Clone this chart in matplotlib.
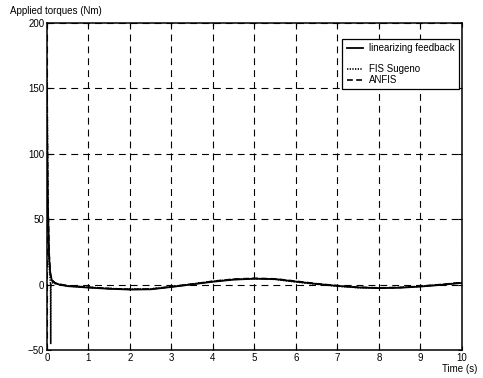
import numpy as np
import matplotlib.pyplot as plt
from matplotlib.lines import Line2D

# values
t_lin = [0, 0.02, 0.05, 0.08, 0.12, 0.2, 0.3, 0.5, 1, 1.5, 2, 2.5, 3, 3.5, 4, 4.5,
         5, 5.5, 6, 6.5, 7, 7.5, 8, 8.5, 9, 9.5, 10]
y_lin = [120, 60, 22, 8, 3, 1, 0, -1.2, -2.3, -3.2, -3.8, -3.6, -1.8, 0.2, 2.2, 3.8,
         4.5, 4.2, 2.3, 0.5, -1.0, -2.2, -2.7, -2.4, -1.5, -0.2, 1.3]

t_fis = [0, 0.02, 0.05, 0.08, 0.085, 0.09, 0.095, 0.12, 0.2, 0.3, 0.5, 1, 1.5, 2, 2.5,
         3, 3.5, 4, 4.5, 5, 5.5, 6, 6.5, 7, 7.5, 8, 8.5, 9, 9.5, 10]
y_fis = [165, 70, 15, 3, 1, -45, 0.5, 1.5, 0.8, 0.2, -1.0, -2.0, -3.0, -3.5, -3.3,
         -1.5, 0.5, 2.5, 4.0, 4.6, 4.0, 2.0, 0.3, -1.2, -2.3, -2.6, -2.2, -1.3, 0.0, 1.5]

t_anf = [0, 0.02, 0.05, 0.08, 0.12, 0.2, 0.3, 0.5, 1, 1.5, 2, 2.5, 3, 3.5, 4, 4.5,
         5, 5.5, 6, 6.5, 7, 7.5, 8, 8.5, 9, 9.5, 10]
y_anf = [150, 70, 25, 9, 3.5, 1.2, 0.3, -0.8, -2.0, -3.0, -3.6, -3.4, -1.6, 0.4, 2.6, 4.2,
         4.8, 4.4, 2.6, 0.7, -0.8, -2.0, -2.5, -2.2, -1.2, 0.1, 1.6]

xticks = list(range(0, 11))
yticks = [-50, 0, 50, 100, 150, 200]

plt.rcParams['font.family'] = ['Liberation Sans', 'DejaVu Sans']
plt.rcParams['font.size'] = 7

fig = plt.figure(figsize=(4.83, 3.78), dpi=100)
ax = fig.add_axes([0.0973, 0.0741, 0.8592, 0.8649])

ax.plot(t_lin, y_lin, color='black', lw=1.3, ls='-', label='linearizing feedback')
ax.plot(t_fis, y_fis, color='black', lw=1.2, ls=(0, (0.8, 0.8)), label='FIS Sugeno')
ax.plot(t_anf, y_anf, color='black', lw=1.2, ls=(0, (3.5, 2)), label='ANFIS')

ax.set_xlim(0, 10)
ax.set_ylim(-50, 200)
ax.set_xticks(xticks)
ax.set_yticks(yticks)
ax.grid(True, color='black', lw=0.8, ls=(0, (6.2, 4.5)))
ax.tick_params(direction='in', length=3, width=0.8, pad=2, top=True, right=True)
for s in ax.spines.values():
    s.set_linewidth(1.1)

h = ax.get_legend_handles_labels()[0]
blank = Line2D([], [], color='none')
leg = ax.legend([h[0], blank, h[1], h[2]],
                ['linearizing feedback', '', 'FIS Sugeno', 'ANFIS'],
                loc='upper right', bbox_to_anchor=(0.993, 0.951), borderaxespad=0,
                fancybox=False, framealpha=1, edgecolor='black',
                handlelength=1.7, handletextpad=0.6, labelspacing=0.05,
                borderpad=0.45)
leg.get_frame().set_linewidth(0.9)

fig.text(10 / 483, 1 - 11 / 378, 'Applied torques (Nm)', ha='left', va='center')
fig.text(477 / 483, 1 - 369 / 378, 'Time (s)', ha='right', va='center')

fig.savefig('out.png', dpi=100)
